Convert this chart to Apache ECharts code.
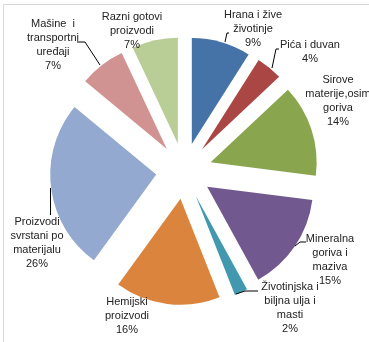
<!DOCTYPE html>
<html><head><meta charset="utf-8">
<script src="https://cdn.jsdelivr.net/npm/echarts@6/dist/echarts.min.js"></script>
<style>html,body{margin:0;padding:0;background:#fff}#c{width:369px;height:342px}</style>
</head><body><div id="c"></div>
<script>
const categories = [
  "Hrana i žive\nživotinje",
  "Pića i duvan",
  "Sirove\nmaterije,osim\ngoriva",
  "Mineralna\ngoriva i\nmaziva",
  "Životinjska i\nbiljna ulja i\nmasti",
  "Hemijski\nproizvodi",
  "Proizvodi\nsvrstani po\nmaterijalu",
  "Mašine  i\ntransportni\nuređaji",
  "Razni gotovi\nproizvodi"
];
const values = [9, 4, 14, 15, 2, 16, 26, 7, 7];
const colors = ["#4572A7","#AA4643","#89A54E","#71588F","#4198AF","#DB843D","#93A9CF","#D19392","#B9CD96"];
// label centres and leader-line paths (layout/style, not data)
const labelPos = [[253,29],[310,52],[338,101],[330,260],[290,308],[127,316],[37,243],[53,45],[132,31]];
const leaderLines = [
  [[229,33],[227,33],[225,42]],
  [[279,49],[276,49],[272,68]],
  [[306,242],[300,242],[295,246]],
  [[258,291],[245,291],[236,294]],
  [[50.5,188],[50.5,215]],
  [[77,42],[85,42],[100,65]]
];

const CX = 184, CY = 171, R = 106, EXPLODE = 28;
const total = values.reduce((a,b)=>a+b,0);

const series = [];
let cum = 0;
values.forEach((v,i)=>{
  const startDeg = cum/total*360;
  const midRad = (cum + v/2)/total*2*Math.PI;
  cum += v;
  const q = labelPos[i];
  series.push({
    type:'pie',
    center:[CX + EXPLODE*Math.sin(midRad), CY - EXPLODE*Math.cos(midRad)],
    radius:[0,R],
    startAngle:90 - startDeg,
    clockwise:true,
    avoidLabelOverlap:false,
    label:{show:true, formatter:p=>p.name+'\n'+p.value+'%', fontFamily:'Liberation Sans', fontSize:11, lineHeight:13.7, color:'#222', align:'center'},
    labelLine:{show:false},
    labelLayout:function(p){ return p.dataIndex===0 ? {x:q[0], y:q[1], align:'center', verticalAlign:'middle'} : {}; },
    data:[
      {name:categories[i], value:v, itemStyle:{color:colors[i]}},
      {name:'', value:total - v, itemStyle:{color:'rgba(0,0,0,0)'}, label:{show:false}, labelLine:{show:false}}
    ]
  });
});

const graphic = [{type:'polyline', shape:{points:[[3.5,342],[3.5,4.5],[369,4.5]]}, style:{stroke:'#d9d9d9', lineWidth:1, fill:null}}];
leaderLines.forEach(pts=>graphic.push({type:'polyline', z:100, shape:{points:pts}, style:{stroke:'#000', lineWidth:1, fill:null}}));

const chart = echarts.init(document.getElementById('c'), null, {renderer:'canvas'});
chart.setOption({
  animation:false,
  graphic: graphic,
  series: series
});
</script></body></html>
